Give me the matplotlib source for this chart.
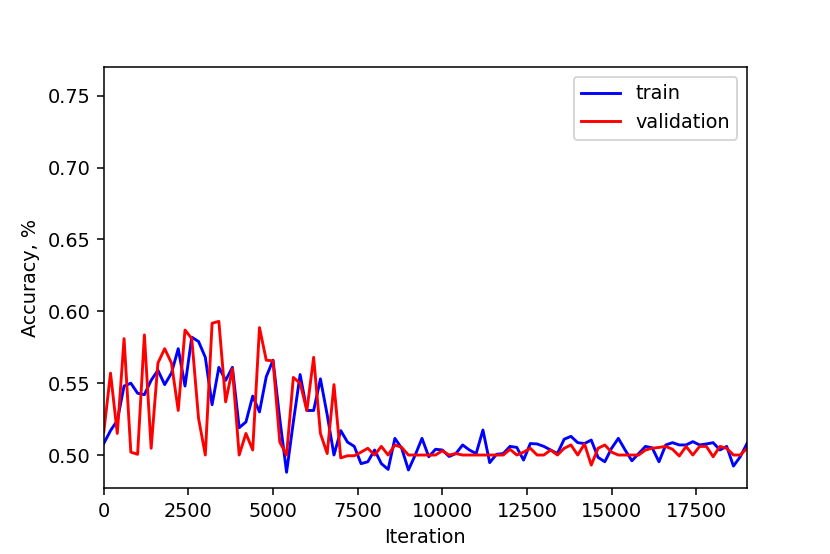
import matplotlib
matplotlib.use("Agg")
import matplotlib.pyplot as plt
import numpy as np

iterations = list(range(0, 19001, 200))

train = [
    0.508, 0.517, 0.524, 0.548, 0.550, 0.543, 0.542, 0.552, 0.559, 0.549,
    0.557, 0.574, 0.548, 0.582, 0.579, 0.568, 0.535, 0.561, 0.552, 0.561,
    0.519, 0.523, 0.541, 0.530, 0.5545, 0.566, 0.525, 0.488, 0.523, 0.556,
    0.531, 0.531, 0.553, 0.528, 0.500, 0.517, 0.509, 0.506, 0.494, 0.4953,
    0.5035, 0.494, 0.490, 0.5116, 0.5047, 0.4896, 0.500, 0.5116, 0.4988, 0.504,
    0.5035, 0.499, 0.501, 0.507, 0.5035, 0.501, 0.5174, 0.4947, 0.5005, 0.501,
    0.506, 0.5053, 0.4965, 0.508, 0.5077, 0.506, 0.5035, 0.501, 0.511, 0.513,
    0.5086, 0.508, 0.5104, 0.4984, 0.4953, 0.5047, 0.5116, 0.5035, 0.496, 0.501,
    0.506, 0.505, 0.4953, 0.507, 0.5086, 0.507, 0.507, 0.5093, 0.507, 0.5077,
    0.5086, 0.5035, 0.506, 0.4923, 0.4988, 0.508,
]

validation = [
    0.516, 0.557, 0.515, 0.581, 0.502, 0.5005, 0.5836, 0.5047, 0.564, 0.574,
    0.564, 0.531, 0.587, 0.581, 0.5255, 0.500, 0.5917, 0.593, 0.537, 0.560,
    0.500, 0.515, 0.5035, 0.5887, 0.566, 0.5655, 0.509, 0.500, 0.554, 0.550,
    0.531, 0.568, 0.515, 0.501, 0.549, 0.498, 0.4995, 0.4995, 0.502, 0.5047,
    0.500, 0.506, 0.500, 0.507, 0.5053, 0.500, 0.500, 0.500, 0.500, 0.500,
    0.503, 0.500, 0.501, 0.500, 0.500, 0.500, 0.500, 0.500, 0.500, 0.500,
    0.504, 0.500, 0.502, 0.5047, 0.500, 0.500, 0.5035, 0.500, 0.5047, 0.507,
    0.500, 0.5077, 0.493, 0.5047, 0.507, 0.502, 0.500, 0.500, 0.500, 0.500,
    0.5035, 0.5047, 0.5053, 0.506, 0.504, 0.4993, 0.506, 0.500, 0.506, 0.506,
    0.4988, 0.506, 0.5047, 0.500, 0.500, 0.5047,
]

dpi = 138.4
fig, ax = plt.subplots(figsize=(830 / dpi, 554 / dpi), dpi=dpi)
fig.subplots_adjust(left=0.125, right=0.9, top=0.879, bottom=0.119)
ax.plot(iterations, train, color="blue", linewidth=1.5, label="train")
ax.plot(iterations, validation, color="red", linewidth=1.5, label="validation")
ax.set_xlim(0, 19000)
ax.set_ylim(0.477, 0.770)
ax.set_yticks([0.50, 0.55, 0.60, 0.65, 0.70, 0.75])
ax.set_xlabel("Iteration")
ax.set_ylabel("Accuracy, %")
ax.legend(loc="upper right")
fig.savefig("out.png", dpi=dpi)
